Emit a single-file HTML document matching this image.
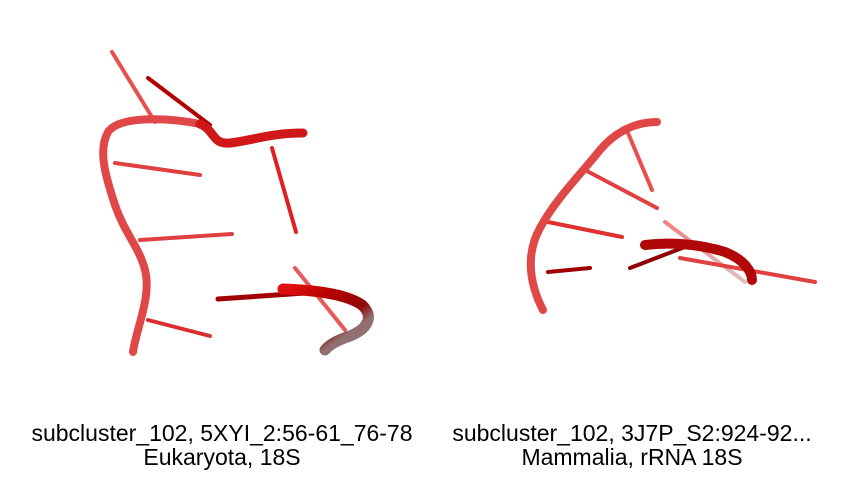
<!DOCTYPE html>
<html><head><meta charset="utf-8"><style>
html,body{margin:0;padding:0;background:#fff;}
svg{display:block;}
text{font-family:"Liberation Sans",sans-serif;font-size:23px;fill:#000;}
</style></head><body>
<svg width="860" height="480" viewBox="0 0 860 480">
<defs>
<linearGradient id="g1" x1="283" y1="290" x2="325" y2="350" gradientUnits="userSpaceOnUse">
<stop offset="0" stop-color="#e01010"/><stop offset="0.45" stop-color="#b00000"/><stop offset="0.8" stop-color="#900808"/><stop offset="1" stop-color="#907070"/></linearGradient>
<linearGradient id="g2" x1="660" y1="225" x2="745" y2="285" gradientUnits="userSpaceOnUse">
<stop offset="0" stop-color="#f08080"/><stop offset="1" stop-color="#e0c0c0"/></linearGradient>
</defs>
<g stroke-linecap="round" fill="none">
<path d="M112 52 L155 122" stroke="#e85050" stroke-width="4"/>
<path d="M148 78 L210 125" stroke="#b00000" stroke-width="4"/>
<path d="M115 163 L200 175" stroke="#e04040" stroke-width="4"/>
<path d="M140 240 L232 234" stroke="#e04040" stroke-width="4"/>
<path d="M148 320 L210 336" stroke="#d83030" stroke-width="4"/>
<path d="M272 148 L296 232" stroke="#e02020" stroke-width="4"/>
<path d="M295 268 L345 330" stroke="#e85858" stroke-width="4"/>
<path d="M133 352 C136 330 150 300 146 275 C142 250 125 235 115 205 C105 175 98 150 108 132 C120 115 170 118 200 124 C215 130 212 145 230 143 C255 140 270 133 303 133" stroke="#e04848" stroke-width="8"/>
<path d="M200 124 C215 130 212 145 230 143 C255 140 270 133 303 133" stroke="#d01818" stroke-width="9"/>
<path d="M218 299 L320 292" stroke="#a00000" stroke-width="5"/>
<path d="M283 289 C310 290 345 293 362 305 C376 318 365 330 350 336 C338 340 330 344 325 350" stroke="url(#g1)" stroke-width="11"/>
</g>
<g stroke-linecap="round" fill="none">
<path d="M628 133 L652 190" stroke="#e85050" stroke-width="4"/>
<path d="M585 170 L657 208" stroke="#e04040" stroke-width="4"/>
<path d="M548 222 L622 237" stroke="#e03030" stroke-width="4"/>
<path d="M548 272 L590 268" stroke="#a00000" stroke-width="4"/>
<path d="M665 222 L745 282" stroke="url(#g2)" stroke-width="4"/>
<path d="M680 258 L815 282" stroke="#e04040" stroke-width="4"/>
<path d="M543 310 C530 285 525 255 540 228 C555 200 580 175 600 150 C615 132 635 122 657 122" stroke="#e04848" stroke-width="8"/>
<path d="M630 268 L690 245" stroke="#900000" stroke-width="4"/>
<path d="M645 245 C670 242 700 244 725 252 C745 260 752 272 752 280" stroke="#b00808" stroke-width="10"/>
</g>
<text x="222" y="441" text-anchor="middle">subcluster_102, 5XYI_2:56-61_76-78</text>
<text x="222" y="465" text-anchor="middle">Eukaryota, 18S</text>
<text x="632" y="441" text-anchor="middle">subcluster_102, 3J7P_S2:924-92...</text>
<text x="632" y="465" text-anchor="middle">Mammalia, rRNA 18S</text>
</svg>
</body></html>
